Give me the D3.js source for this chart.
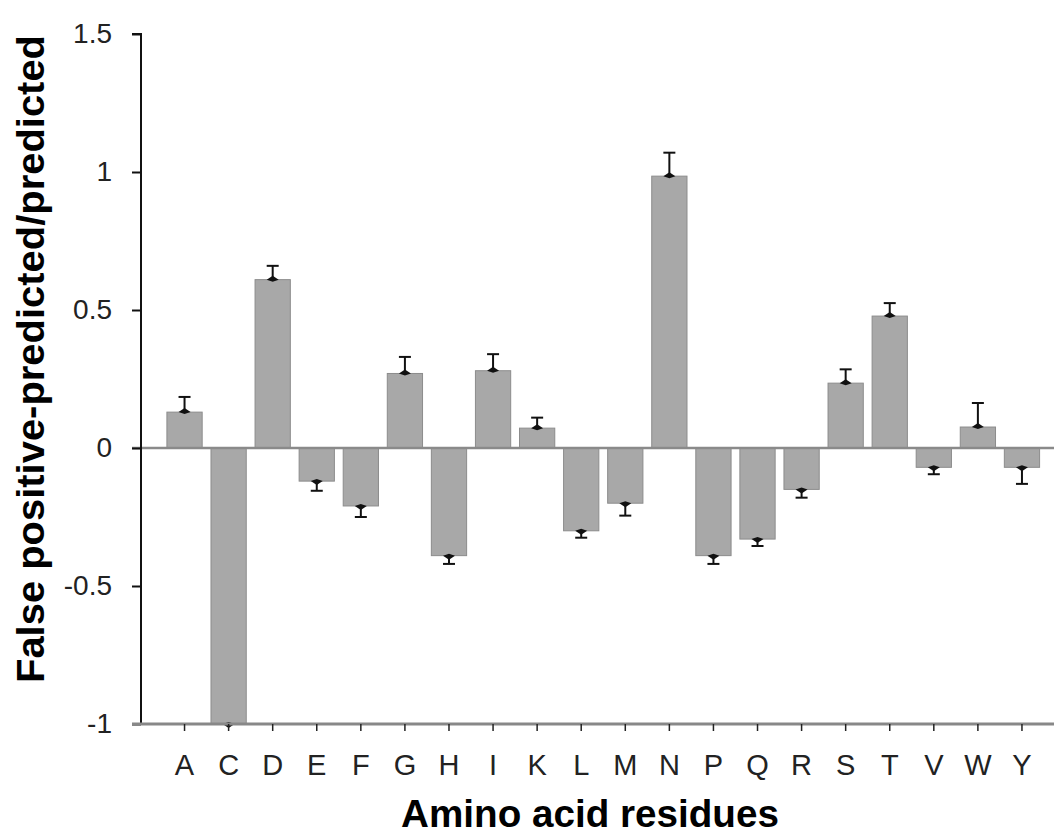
<!DOCTYPE html>
<html><head><meta charset="utf-8">
<script src="https://cdn.jsdelivr.net/npm/d3@7"></script>
<style>body{margin:0;background:#fff;} svg{display:block;}</style>
</head><body>
<svg id="chart" width="1054" height="834"></svg>
<script>
const categories = ["A","C","D","E","F","G","H","I","K","L","M","N","P","Q","R","S","T","V","W","Y"];
const values = [0.13,-1.0,0.61,-0.12,-0.21,0.27,-0.39,0.28,0.072,-0.30,-0.20,0.985,-0.39,-0.33,-0.15,0.235,0.478,-0.07,0.076,-0.07];
const errors = [0.055,0.0,0.05,0.035,0.04,0.06,0.03,0.06,0.038,0.025,0.045,0.085,0.03,0.025,0.03,0.05,0.047,0.025,0.087,0.06];
const yTicks = [-1,-0.5,0,0.5,1,1.5];
const yTickLabels = ["-1","-0.5","0","0.5","1","1.5"];

const svg = d3.select("#chart");
const y = d3.scaleLinear().domain([-1,1.5]).range([724,34]);
const x = d3.scaleBand().domain(categories).range([162.5,1044]).paddingInner(0.2).paddingOuter(0.1);
const FONT = "Liberation Sans, Arial, Helvetica, sans-serif";

// bars
svg.append("g").selectAll("rect").data(categories).join("rect")
  .attr("x", d=>x(d))
  .attr("width", x.bandwidth())
  .attr("y", (d,i)=>y(Math.max(0,values[i])))
  .attr("height", (d,i)=>Math.abs(y(values[i])-y(0)))
  .attr("fill","#a8a8a8").attr("stroke","#8c8c8c").attr("stroke-width",1);

// zero line
svg.append("line").attr("x1",132).attr("x2",1054).attr("y1",y(0)).attr("y2",y(0))
  .attr("stroke","#8a8a8a").attr("stroke-width",2.5);

// error bars
const eg = svg.append("g");
categories.forEach((c,i)=>{
  const cx = x(c)+x.bandwidth()/2;
  const v = values[i], e = errors[i];
  const s = v>=0?1:-1;
  const y0 = y(v), y1 = y(v+s*e);
  if(e>0){
    eg.append("line").attr("x1",cx).attr("x2",cx).attr("y1",y0).attr("y2",y1).attr("stroke","#111").attr("stroke-width",2);
    eg.append("line").attr("x1",cx-6).attr("x2",cx+6).attr("y1",y1).attr("y2",y1).attr("stroke","#111").attr("stroke-width",2);
  }
  eg.append("path").attr("d",`M${cx-6},${y0}L${cx},${y0-s*4}L${cx+6},${y0}L${cx},${y0+s*2}Z`).attr("fill","#111");
});

// y axis
const yAxis = d3.axisLeft(y).tickValues(yTicks).tickFormat((d,i)=>yTickLabels[i]).tickSize(9).tickPadding(20);
const ya = svg.append("g").attr("transform","translate(141,0)").call(yAxis);
ya.select(".domain").attr("stroke","#111").attr("stroke-width",2).attr("d","M-9,34H0V724");
ya.selectAll(".tick line").attr("stroke","#111").attr("stroke-width",2);
ya.selectAll(".tick text").attr("font-family",FONT).attr("font-size",28).attr("fill","#222");

// x axis
const xAxis = d3.axisBottom(x).tickSize(7).tickPadding(23);
const xa = svg.append("g").attr("transform","translate(0,724)").call(xAxis);
xa.select(".domain").attr("stroke","#888").attr("stroke-width",3).attr("d","M132,0H1054");
xa.selectAll(".tick line").attr("stroke","#222").attr("stroke-width",1.5);
xa.selectAll(".tick text").attr("font-family",FONT).attr("font-size",29).attr("fill","#222");

// titles, fitted to measured widths
function fit(t, target, base){
  const w = t.node().getComputedTextLength();
  t.attr("font-size", base*target/w);
}
const xt = svg.append("text").attr("x",590).attr("y",827).attr("text-anchor","middle")
  .attr("font-family",FONT).attr("font-weight","bold").attr("font-size",40)
  .attr("fill","#000").text("Amino acid residues");
fit(xt, 378, 40);
const yt = svg.append("text").attr("transform","translate(44,359) rotate(-90)").attr("text-anchor","middle")
  .attr("font-family",FONT).attr("font-weight","bold").attr("font-size",38)
  .attr("fill","#000").text("False positive-predicted/predicted");
yt.attr("textLength",648).attr("lengthAdjust","spacingAndGlyphs");
</script>
</body></html>
